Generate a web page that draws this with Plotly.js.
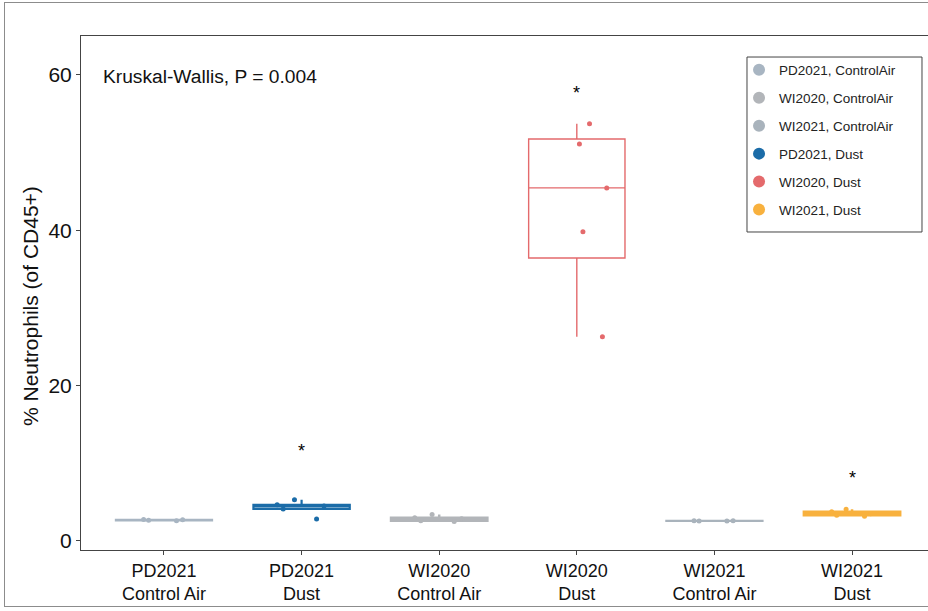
<!DOCTYPE html>
<html><head><meta charset="utf-8">
<script src="https://cdn.plot.ly/plotly-3.0.1.min.js"></script>
<style>
html,body{margin:0;padding:0;background:#fff;overflow:hidden}
#wrap{position:relative;width:928px;height:611px;overflow:hidden}
#chart{position:absolute;left:0;top:0;width:928px;height:611px}
#frame{position:absolute;left:4px;top:2px;width:960px;height:605px;border:1px solid #8c8c8c;box-sizing:border-box;pointer-events:none}
</style></head>
<body><div id="wrap"><div id="chart"></div><div id="frame"></div></div>
<script>
// Categories (x axis) and tick labels
const categories = ['PD2021<br>Control Air','PD2021<br>Dust','WI2020<br>Control Air','WI2020<br>Dust','WI2021<br>Control Air','WI2021<br>Dust'];
// Series values (% neutrophils of CD45+), one array per group
const pd2021ControlAir = [2.62, 2.68, 2.72, 2.76];
const pd2021Dust       = [2.84, 4.13, 4.5, 4.65, 5.3];
const wi2020ControlAir = [2.5, 2.6, 2.85, 3.0, 3.4];
const wi2020Dust       = [53.7, 51.1, 45.45, 39.8, 26.3];
const wi2021ControlAir = [2.56, 2.58, 2.6, 2.62];
const wi2021Dust       = [3.2, 3.3, 3.5, 3.75, 4.1];
// Legend labels (legend order)
const legendNames = ['PD2021, ControlAir','WI2020, ControlAir','WI2021, ControlAir','PD2021, Dust','WI2020, Dust','WI2021, Dust'];
// Significance markers
const sigCategories = [categories[1], categories[3], categories[5]];
const sigY = [11.6, 57.7, 8.1];
const statText = 'Kruskal-Wallis, P = 0.004';
const yTitle = '% Neutrophils (of CD45+)';
const yTicks = [0, 20, 40, 60];

const FONT = 'Liberation Sans, Arial, Helvetica, sans-serif';
const colors = {
  pdCtrl:'#a8b5c2', wi20Ctrl:'#b2b5b9', wi21Ctrl:'#a9b3bc',
  pdDust:'#1b6ca8', wi20Dust:'#e46a6c', wi21Dust:'#f8b13e'
};
const legendColors = [colors.pdCtrl, colors.wi20Ctrl, colors.wi21Ctrl, colors.pdDust, colors.wi20Dust, colors.wi21Dust];

const groups = [
  {cat:categories[0], vals:pd2021ControlAir, line:colors.pdCtrl, fill:'rgba(168,181,194,0.25)', lw:2, qm:'inclusive', pp:0, jit:0.5},
  {cat:categories[1], vals:pd2021Dust, line:colors.pdDust, fill:'rgba(27,108,168,0.22)', lw:2.2, qm:'inclusive', pp:0, jit:0.6},
  {cat:categories[2], vals:wi2020ControlAir, line:colors.wi20Ctrl, fill:'rgba(178,181,185,0.3)', lw:2.5, qm:'inclusive', pp:0, jit:0.6},
  {cat:categories[3], vals:wi2020Dust, line:colors.wi20Dust, fill:'rgba(255,255,255,0)', lw:1.4, qm:'linear', pp:0.35, jit:0.35},
  {cat:categories[4], vals:wi2021ControlAir, line:colors.wi21Ctrl, fill:'rgba(169,179,188,0.25)', lw:2, qm:'inclusive', pp:0, jit:0.5},
  {cat:categories[5], vals:wi2021Dust, line:colors.wi21Dust, fill:'rgba(248,177,62,0.3)', lw:2.5, qm:'inclusive', pp:0, jit:0.5}
];

const traces = groups.map(g => ({
  type:'box', x:g.vals.map(()=>g.cat), y:g.vals, name:g.cat,
  showlegend:false, boxpoints:'all', jitter:g.jit, pointpos:g.pp,
  quartilemethod:g.qm, width:0.7, whiskerwidth:0,
  line:{color:g.line, width:g.lw}, fillcolor:g.fill,
  marker:{color:g.line, size:5}, hoverinfo:'y'
}));

legendNames.forEach((n,i)=>{
  traces.push({type:'scatter', mode:'markers', x:[null], y:[null], name:n,
    legendgroup:'g'+i, marker:{color:legendColors[i], size:13}, showlegend:true});
});

const annotations = sigCategories.map((c,i)=>({
  x:c, y:sigY[i], xref:'x', yref:'y', text:'*', showarrow:false,
  font:{size:18, color:'#000', family:FONT}
}));
annotations.push({x:0.0236, y:0.922, xref:'paper', yref:'paper', xanchor:'left', yanchor:'middle',
  text:statText, showarrow:false, font:{size:19.2, color:'#111', family:FONT}});
annotations.push({x:-0.0602, y:0.4747, xref:'paper', yref:'paper', xanchor:'center', yanchor:'middle',
  text:yTitle, textangle:-90, showarrow:false, font:{size:21, color:'#111', family:FONT}});

const layout = {
  width:928, height:611,
  margin:{l:81, r:0, t:36, b:61},
  paper_bgcolor:'rgba(0,0,0,0)', plot_bgcolor:'#fff',
  font:{family:FONT, color:'#111'},
  showlegend:true,
  legend:{x:0.7769, y:0.964, xanchor:'left', yanchor:'top', bgcolor:'rgba(0,0,0,0)',
    borderwidth:0, font:{size:13.5, color:'#222', family:FONT},
    tracegroupgap:7.4, traceorder:'grouped', itemsizing:'constant'},
  shapes:[{type:'rect', xref:'paper', yref:'paper', x0:0.7863, x1:0.9929, y0:0.6187, y1:0.9591,
    line:{color:'#444', width:1}, fillcolor:'rgba(0,0,0,0)', layer:'below'}],
  xaxis:{type:'category', categoryorder:'array', categoryarray:categories,
    range:[-0.603, 5.552], showline:true, mirror:true, linecolor:'#444', linewidth:1,
    ticks:'outside', ticklen:4, tickcolor:'#444', showgrid:false, zeroline:false,
    tickfont:{size:18, color:'#111'}},
  yaxis:{range:[-1.16, 65.0], tickvals:yTicks, showline:true, linecolor:'#444', linewidth:1,
    ticks:'outside', ticklen:4, tickcolor:'#444', showgrid:false, zeroline:false,
    tickfont:{size:21, color:'#111'}},
  annotations:annotations,
  boxmode:'overlay'
};

Plotly.newPlot('chart', traces, layout, {staticPlot:true, displayModeBar:false});
</script>
</body></html>
